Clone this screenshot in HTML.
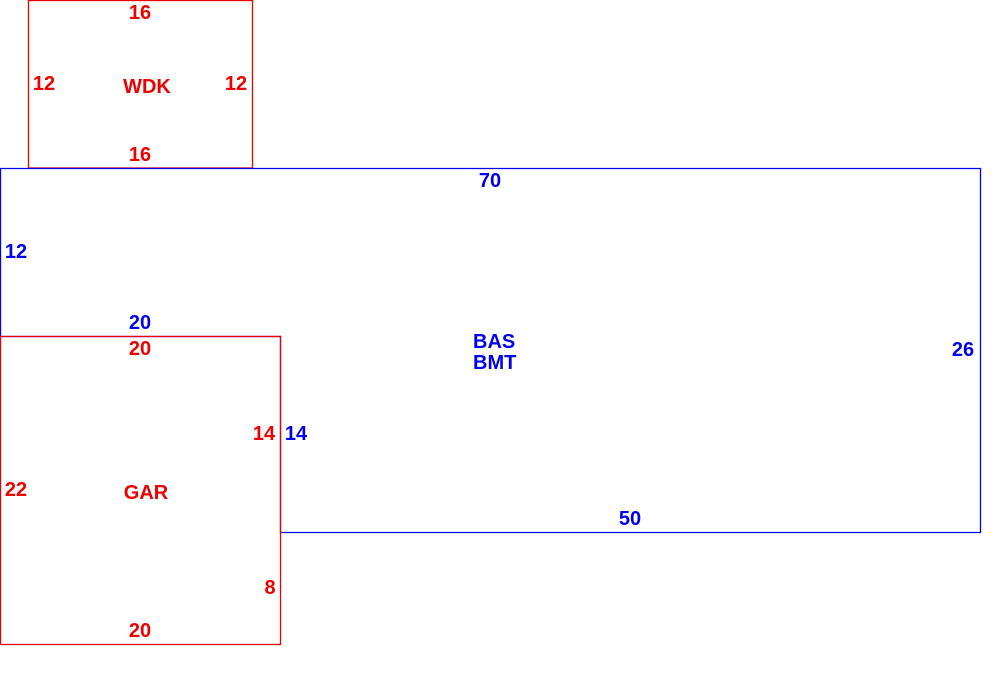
<!DOCTYPE html>
<html><head><style>body{margin:0;background:#fff}svg{display:block}text{font-family:"Liberation Sans",Arial,sans-serif;font-weight:bold;font-size:20px;text-anchor:middle;dominant-baseline:central}</style></head>
<body>
<svg width="1000" height="685" xmlns="http://www.w3.org/2000/svg">
<rect x="28.5" y="0.5" width="224" height="167.5" fill="none" stroke="#e00" stroke-width="1.3"/>
<polygon points="0.5,168.5 980.5,168.5 980.5,532.5 280.5,532.5 280.5,336.5 0.5,336.5" fill="none" stroke="#00e" stroke-width="1.3"/>
<rect x="0.5" y="336.5" width="280" height="308" fill="none" stroke="#e00" stroke-width="1.3"/>
<g fill="#e00" transform="translate(0,1)">
<text x="140" y="12">16</text>
<text x="44" y="83">12</text>
<text x="236" y="83">12</text>
<text x="147" y="86">WDK</text>
<text x="140" y="154">16</text>
<text x="140" y="348">20</text>
<text x="264" y="433">14</text>
<text x="16" y="489">22</text>
<text x="146" y="492">GAR</text>
<text x="270" y="587">8</text>
<text x="140" y="630">20</text>
</g>
<g fill="#00e" transform="translate(0,1)">
<text x="490" y="180">70</text>
<text x="16" y="251">12</text>
<text x="140" y="322">20</text>
<text x="473" y="341" style="text-anchor:start">BAS</text>
<text x="473" y="362" style="text-anchor:start">BMT</text>
<text x="963" y="349">26</text>
<text x="296" y="433">14</text>
<text x="630" y="518">50</text>
</g>
</svg>
</body></html>
